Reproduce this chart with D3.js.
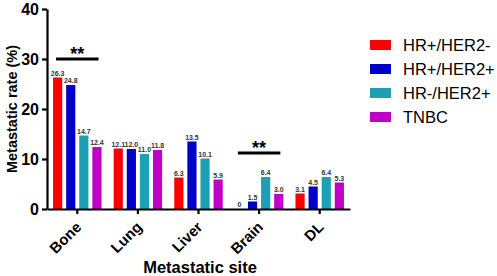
<!DOCTYPE html>
<html>
<head>
<meta charset="utf-8">
<script src="https://cdn.jsdelivr.net/npm/d3@7"></script>
<style>
  body { margin: 0; background: #fff; }
  text { font-family: "Liberation Sans", Arial, sans-serif; }
</style>
</head>
<body>
<script>
var sites = ["Bone", "Lung", "Liver", "Brain", "DL"];
var groups = ["HR+/HER2-", "HR+/HER2+", "HR-/HER2+", "TNBC"];
var colors = ["#ff0000", "#0000c8", "#1ea0b4", "#c000c8"];
var hrPosHer2Neg = [26.3, 12.1, 6.3, 0, 3.1];
var hrPosHer2Pos = [24.8, 12.0, 13.5, 1.5, 4.5];
var hrNegHer2Pos = [14.7, 11.0, 10.1, 6.4, 6.4];
var tnbc = [12.4, 11.8, 5.9, 3.0, 5.3];
var yTicks = [0, 10, 20, 30, 40];
var sigMarks = [{site: "Bone", level: 30}, {site: "Brain", level: 11.2}];

var series = [hrPosHer2Neg, hrPosHer2Pos, hrNegHer2Pos, tnbc];
var w = 497, h = 276;

var svg = d3.select("body").append("svg")
  .attr("width", w).attr("height", h);

var x = d3.scaleBand().domain(sites).range([47, 350])
  .paddingInner(0.2).paddingOuter(0.1);
var xi = d3.scaleBand().domain(groups).range([0, x.bandwidth()])
  .paddingInner(0.3);
var y = d3.scaleLinear().domain([0, 40]).range([209, 9]);

// bars
var data = [];
sites.forEach(function(s, i) {
  groups.forEach(function(g, j) {
    data.push({site: s, group: g, value: series[j][i], color: colors[j]});
  });
});

svg.selectAll("rect.bar")
  .data(data)
  .enter()
  .append("rect")
  .attr("class", "bar")
  .attr("x", function(d) { return x(d.site) + xi(d.group); })
  .attr("y", function(d) { return y(d.value); })
  .attr("width", xi.bandwidth())
  .attr("height", function(d) { return y(0) - y(d.value); })
  .attr("fill", function(d) { return d.color; });

svg.selectAll("text.val")
  .data(data)
  .enter()
  .append("text")
  .attr("class", "val")
  .attr("x", function(d) { return x(d.site) + xi(d.group) + xi.bandwidth() / 2; })
  .attr("y", function(d) { return y(d.value) - 2; })
  .attr("text-anchor", "middle")
  .attr("font-size", "7px")
  .attr("font-weight", "bold")
  .attr("fill", "#333")
  .text(function(d) { return d.value === 0 ? "0" : d.value.toFixed(1); });

// axes
var yAxis = svg.append("g")
  .attr("transform", "translate(47,0)")
  .call(d3.axisLeft(y).tickValues(yTicks).tickSize(5).tickSizeOuter(0));
yAxis.selectAll("text")
  .attr("font-size", "16px").attr("font-weight", "bold").attr("fill", "#000")
  .attr("font-family", "Liberation Sans, Arial, sans-serif");

var xAxis = svg.append("g")
  .attr("transform", "translate(0,209)")
  .call(d3.axisBottom(x).tickSize(5).tickSizeOuter(0).tickFormat(""));

// rotated category labels
svg.selectAll("text.cat")
  .data(sites)
  .enter()
  .append("text")
  .attr("class", "cat")
  .attr("transform", function(d) {
    return "translate(" + (x(d) + x.bandwidth() / 2 + 5) + ",228) rotate(-45)";
  })
  .attr("text-anchor", "end")
  .attr("font-size", "15px").attr("font-weight", "bold")
  .text(function(d) { return d; });

svg.selectAll(".domain, .tick line")
  .attr("stroke", "#000").attr("stroke-width", 2.2);

// axis titles
svg.append("text")
  .attr("transform", "translate(17,109) rotate(-90)")
  .attr("text-anchor", "middle")
  .attr("font-size", "14.5px").attr("font-weight", "bold")
  .text("Metastatic rate (%)");

svg.append("text")
  .attr("x", 200).attr("y", 273)
  .attr("text-anchor", "middle")
  .attr("font-size", "16.5px").attr("font-weight", "bold")
  .text("Metastatic site");

// significance marks
sigMarks.forEach(function(m) {
  svg.append("line")
    .attr("x1", x(m.site) + 3).attr("x2", x(m.site) + x.bandwidth() - 3)
    .attr("y1", y(m.level)).attr("y2", y(m.level))
    .attr("stroke", "#000").attr("stroke-width", 3);
  svg.append("text")
    .attr("x", x(m.site) + x.bandwidth() / 2).attr("y", y(m.level) + 1)
    .attr("text-anchor", "middle")
    .attr("font-size", "18px").attr("font-weight", "bold")
    .text("**");
});

// legend
var legend = svg.selectAll("g.leg")
  .data(groups)
  .enter()
  .append("g")
  .attr("class", "leg")
  .attr("transform", function(d, i) { return "translate(370," + (40 + i * 24) + ")"; });
legend.append("rect")
  .attr("width", 21).attr("height", 10)
  .attr("fill", function(d, i) { return colors[i]; });
legend.append("text")
  .attr("x", 33).attr("y", 11)
  .attr("font-size", "16.5px")
  .text(function(d) { return d; });
</script>
</body>
</html>
